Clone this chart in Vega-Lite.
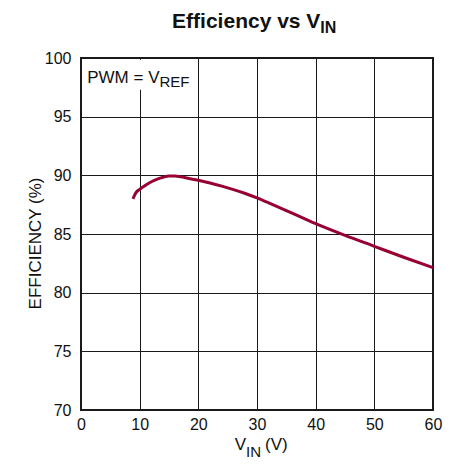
{
  "$schema": "https://vega.github.io/schema/vega-lite/v6.json",
  "autosize": "none",
  "padding": {"left": 81, "top": 58, "right": 23, "bottom": 59},
  "width": 352,
  "height": 352,
  "background": "white",
  "view": {"stroke": "#1a1a1a", "strokeWidth": 2},
  "config": {
    "font": "Liberation Sans",
    "axis": {
      "grid": true,
      "gridColor": "#1a1a1a",
      "gridWidth": 1,
      "gridOpacity": 1,
      "domain": false,
      "ticks": false,
      "labelFlush": false,
      "labelFont": "Liberation Sans",
      "labelFontSize": 16,
      "labelColor": "#111",
      "titleFont": "Liberation Sans",
      "titleFontWeight": "normal",
      "titleColor": "#111"
    }
  },
  "layer": [
    {
      "data": {"values": [
        {"v": 8.85, "eff": 88.0},
        {"v": 9.4, "eff": 88.55},
        {"v": 10, "eff": 88.8},
        {"v": 11, "eff": 89.15},
        {"v": 12, "eff": 89.45},
        {"v": 13, "eff": 89.68},
        {"v": 14, "eff": 89.84},
        {"v": 15, "eff": 89.94},
        {"v": 16, "eff": 89.94},
        {"v": 17, "eff": 89.87},
        {"v": 18, "eff": 89.78},
        {"v": 20, "eff": 89.58},
        {"v": 22, "eff": 89.35},
        {"v": 24, "eff": 89.08},
        {"v": 26, "eff": 88.78},
        {"v": 28, "eff": 88.45},
        {"v": 30, "eff": 88.07},
        {"v": 32, "eff": 87.65},
        {"v": 35, "eff": 87.0},
        {"v": 40, "eff": 85.88},
        {"v": 45, "eff": 84.88},
        {"v": 50, "eff": 83.95},
        {"v": 55, "eff": 83.02},
        {"v": 60, "eff": 82.13}
      ]},
      "mark": {"type": "line", "color": "#960035", "strokeWidth": 3, "interpolate": "monotone", "strokeCap": "butt"},
      "encoding": {
        "x": {
          "field": "v", "type": "quantitative",
          "scale": {"domain": [0, 60], "nice": false},
          "axis": {"values": [0, 10, 20, 30, 40, 50, 60], "title": null, "labelPadding": 6}
        },
        "y": {
          "field": "eff", "type": "quantitative",
          "scale": {"domain": [70, 100], "nice": false, "zero": false},
          "axis": {
            "values": [70, 75, 80, 85, 90, 95, 100],
            "title": "EFFICIENCY (%)",
            "titleFontSize": 17,
            "labelPadding": 10,
            "titleX": -41,
            "titleY": 185,
            "titleBaseline": "alphabetic",
            "titleAngle": 270
          }
        }
      }
    },
    {
      "data": {"values": [{"x1": 0.4, "x2": 17, "y1": 97.3, "y2": 99.85}]},
      "mark": {"type": "rect", "fill": "white", "stroke": null},
      "encoding": {
        "x": {"field": "x1", "type": "quantitative"},
        "x2": {"field": "x2"},
        "y": {"field": "y1", "type": "quantitative"},
        "y2": {"field": "y2"}
      }
    },
    {
      "data": {"values": [{"x": 13.38, "y": 97.91, "t": "PWM = V"}]},
      "mark": {"type": "text", "align": "right", "baseline": "alphabetic", "font": "Liberation Sans", "fontSize": 17, "color": "#111"},
      "encoding": {
        "x": {"field": "x", "type": "quantitative"},
        "y": {"field": "y", "type": "quantitative"},
        "text": {"field": "t"}
      }
    },
    {
      "data": {"values": [{"x": 13.38, "y": 97.91, "t": "REF"}]},
      "mark": {"type": "text", "align": "left", "baseline": "alphabetic", "dy": 4, "font": "Liberation Sans", "fontSize": 15, "color": "#111"},
      "encoding": {
        "x": {"field": "x", "type": "quantitative"},
        "y": {"field": "y", "type": "quantitative"},
        "text": {"field": "t"}
      }
    },
    {
      "data": {"values": [{"x": 40.8, "y": 102.53, "t": "Efficiency vs V"}]},
      "mark": {"type": "text", "align": "right", "baseline": "alphabetic", "font": "Liberation Sans", "fontWeight": "bold", "fontSize": 21, "color": "#111"},
      "encoding": {
        "x": {"field": "x", "type": "quantitative"},
        "y": {"field": "y", "type": "quantitative"},
        "text": {"field": "t"}
      }
    },
    {
      "data": {"values": [{"x": 40.8, "y": 102.53, "t": "IN"}]},
      "mark": {"type": "text", "align": "left", "baseline": "alphabetic", "dy": 5, "font": "Liberation Sans", "fontWeight": "bold", "fontSize": 16, "color": "#111"},
      "encoding": {
        "x": {"field": "x", "type": "quantitative"},
        "y": {"field": "y", "type": "quantitative"},
        "text": {"field": "t"}
      }
    },
    {
      "data": {"values": [{"x": 28.12, "y": 66.59, "t": "V"}]},
      "mark": {"type": "text", "align": "right", "baseline": "alphabetic", "font": "Liberation Sans", "fontSize": 17, "color": "#111"},
      "encoding": {
        "x": {"field": "x", "type": "quantitative"},
        "y": {"field": "y", "type": "quantitative"},
        "text": {"field": "t"}
      }
    },
    {
      "data": {"values": [{"x": 28.12, "y": 66.59, "t": "IN"}]},
      "mark": {"type": "text", "align": "left", "baseline": "alphabetic", "dy": 6.5, "font": "Liberation Sans", "fontSize": 15, "color": "#111"},
      "encoding": {
        "x": {"field": "x", "type": "quantitative"},
        "y": {"field": "y", "type": "quantitative"},
        "text": {"field": "t"}
      }
    },
    {
      "data": {"values": [{"x": 31.36, "y": 66.59, "t": "(V)"}]},
      "mark": {"type": "text", "align": "left", "baseline": "alphabetic", "font": "Liberation Sans", "fontSize": 17, "color": "#111"},
      "encoding": {
        "x": {"field": "x", "type": "quantitative"},
        "y": {"field": "y", "type": "quantitative"},
        "text": {"field": "t"}
      }
    }
  ]
}
